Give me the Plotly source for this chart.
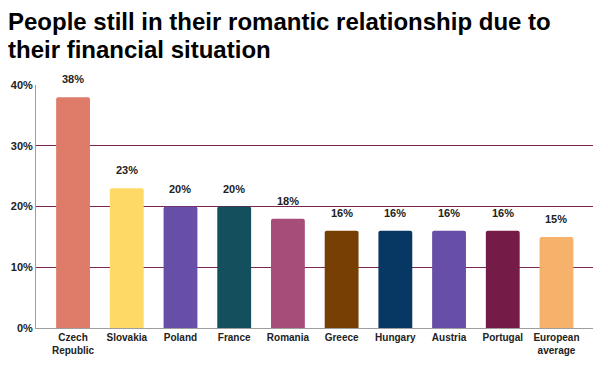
import plotly.graph_objects as go

categories = ["Czech<br>Republic", "Slovakia", "Poland", "France", "Romania",
              "Greece", "Hungary", "Austria", "Portugal", "European<br>average"]
values = [38, 23, 20, 20, 18, 16, 16, 16, 16, 15]
colors = ["#DE7C69", "#FFD966", "#674EA7", "#134F5C", "#A64D79",
          "#783F04", "#073763", "#674EA7", "#741B47", "#F6B26B"]
tick_vals = [0, 10, 20, 30, 40]
tick_text = ["0%", "10%", "20%", "30%", "40%"]
title_lines = ["People still in their romantic relationship due to",
               "their financial situation"]

font_family = "Liberation Sans, Arial, sans-serif"

# page has an 8px body margin, so the figure is sized/offset to compensate
W, H = 600, 358
L, R, T, B = 28, 15, 77, 38
pw, ph = W - L - R, H - T - B

fig = go.Figure()
fig.add_trace(go.Bar(
    x=list(range(len(categories))), y=values,
    marker=dict(color=colors, line=dict(width=0), cornerradius=2),
    width=0.63, hoverinfo="skip",
))

for i, v in enumerate(values):
    fig.add_annotation(x=i, y=v, xref="x", yref="y", text=f"{v}%",
                       showarrow=False, yanchor="bottom", yshift=10,
                       font=dict(family=font_family, size=11, color="#222", weight="bold"))

title_mid = [14, 41]  # px from figure top
for line, ym in zip(title_lines, title_mid):
    fig.add_annotation(text=line, xref="paper", yref="paper",
                       x=(-2 - L) / pw, y=(H - B - ym) / ph,
                       xanchor="left", yanchor="middle", align="left", showarrow=False,
                       font=dict(family=font_family, size=24, color="#000", weight="bold"))

fig.update_layout(
    width=W, height=H,
    margin=dict(l=L, r=R, t=T, b=B, autoexpand=False),
    paper_bgcolor="white", plot_bgcolor="white",
    showlegend=False,
    xaxis=dict(
        tickmode="array", tickvals=list(range(len(categories))), ticktext=categories,
        range=[-0.69, 9.68], showgrid=False, zeroline=False,
        showline=True, linecolor="#9E9E9E", linewidth=1,
        tickfont=dict(family=font_family, size=10, color="#222", weight="bold"),
        ticks="",
    ),
    yaxis=dict(
        range=[0, 40], tickvals=tick_vals, ticktext=tick_text,
        showgrid=True, gridcolor="#7B2552", gridwidth=1,
        zeroline=False, showline=True, linecolor="#9E9E9E", linewidth=1,
        tickfont=dict(family=font_family, size=11, color="#222", weight="bold"),
        ticks="",
    ),
    font=dict(family=font_family, color="#222"),
)

fig.write_html("out.html")
